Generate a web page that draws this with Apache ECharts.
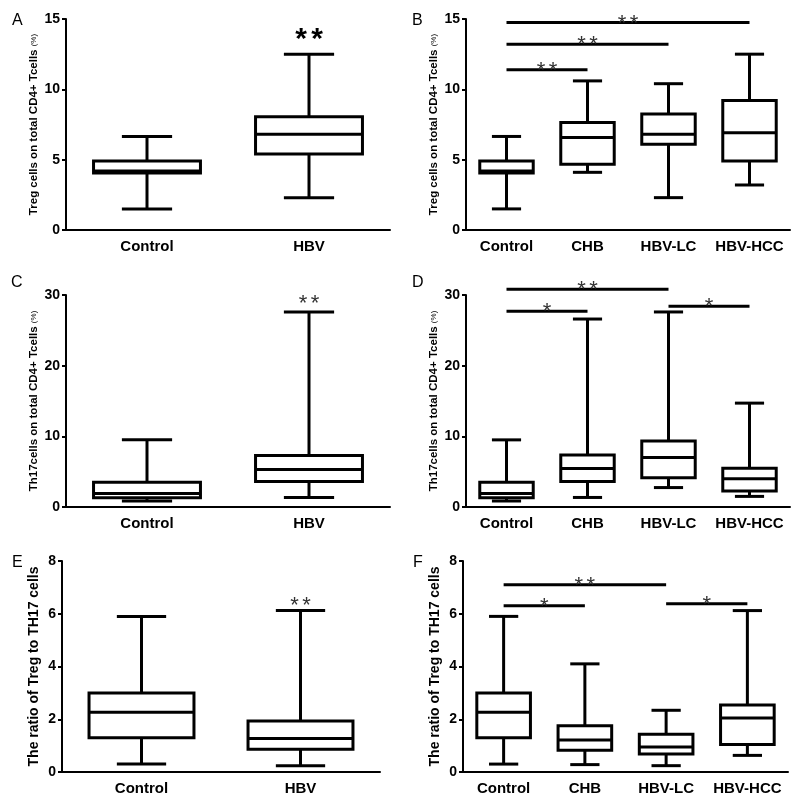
<!DOCTYPE html>
<html>
<head>
<meta charset="utf-8">
<script src="https://cdn.jsdelivr.net/npm/echarts@6/dist/echarts.min.js"></script>
<style>
html,body{margin:0;padding:0;background:#fff;}
#chart{width:800px;height:804px;}
</style>
</head>
<body>
<div id="chart"></div>
<script>
// ---------- data ----------
const catsTwo = ['Control', 'HBV'];
const catsFour = ['Control', 'CHB', 'HBV-LC', 'HBV-HCC'];
// each box: [min, Q1, median, Q3, max]
const tregControl = [1.5, 4.05, 4.2, 4.9, 6.65];
const tregHBV = [2.3, 5.4, 6.8, 8.05, 12.5];
const tregCHB = [4.1, 4.67, 6.57, 7.65, 10.6];
const tregLC = [2.3, 6.1, 6.8, 8.25, 10.4];
const tregHCC = [3.2, 4.9, 6.92, 9.2, 12.5];
const th17Control = [0.85, 1.3, 1.9, 3.5, 9.5];
const th17HBV = [1.35, 3.6, 5.3, 7.3, 27.6];
const th17CHB = [1.35, 3.6, 5.45, 7.35, 26.6];
const th17LC = [2.75, 4.15, 7.0, 9.35, 27.6];
const th17HCC = [1.5, 2.27, 4.0, 5.48, 14.7];
const ratioControl = [0.3, 1.3, 2.27, 3.0, 5.9];
const ratioHBV = [0.24, 0.86, 1.27, 1.93, 6.12];
const ratioCHB = [0.28, 0.82, 1.21, 1.75, 4.1];
const ratioLC = [0.24, 0.68, 0.95, 1.43, 2.34];
const ratioHCC = [0.63, 1.04, 2.05, 2.54, 6.12];
// significance brackets: [fromCategory, toCategory, yValue, starCount]
const bracketsB = [[0, 1, 11.4, 2], [0, 2, 13.2, 2], [0, 3, 14.75, 2]];
const bracketsD = [[0, 1, 27.7, 1], [0, 2, 30.8, 2], [2, 3, 28.4, 1]];
const bracketsF = [[0, 1, 6.3, 1], [0, 2, 7.1, 2], [2, 3, 6.38, 1]];
// single significance marks: [category, yValue, starCount]
const starsA = [[1, 14.0, 2]];
const starsC = [[1, 29.4, 2]];
const starsE = [[1, 6.47, 2]];
// axis ticks
const yTicksTreg = [0, 5, 10, 15];
const yTicksTh17 = [0, 10, 20, 30];
const yTicksRatio = [0, 2, 4, 6, 8];
const yNameTreg = 'Treg cells on total CD4+ Tcells {p|(%)}';
const yNameTh17 = 'Th17cells on total CD4+ Tcells {p|(%)}';
const yNameRatio = 'The ratio of Treg to TH17 cells';
const panelLetters = ['A', 'B', 'C', 'D', 'E', 'F'];

// ---------- layout ----------
const FONT = 'Liberation Sans, Arial, sans-serif';
const panels = [
  {grid: {left: 66, top: 19, width: 324, height: 211}, cats: catsTwo, boxes: [tregControl, tregHBV], ticks: yTicksTreg, name: yNameTreg, nameSize: 11.5, gap: 26, brackets: [], stars: starsA, big: true, letter: [12, 13]},
  {grid: {left: 466, top: 19, width: 324, height: 211}, cats: catsFour, boxes: [tregControl, tregCHB, tregLC, tregHCC], ticks: yTicksTreg, name: yNameTreg, nameSize: 11.5, gap: 26, brackets: bracketsB, stars: [], letter: [412, 13]},
  {grid: {left: 66, top: 295, width: 324, height: 212}, cats: catsTwo, boxes: [th17Control, th17HBV], ticks: yTicksTh17, name: yNameTh17, nameSize: 11.5, gap: 26, brackets: [], stars: starsC, letter: [11, 275]},
  {grid: {left: 466, top: 295, width: 324, height: 212}, cats: catsFour, boxes: [th17Control, th17CHB, th17LC, th17HCC], ticks: yTicksTh17, name: yNameTh17, nameSize: 11.5, gap: 26, brackets: bracketsD, stars: [], letter: [412, 275]},
  {grid: {left: 62, top: 561, width: 318, height: 211}, cats: catsTwo, boxes: [ratioControl, ratioHBV], ticks: yTicksRatio, name: yNameRatio, nameSize: 14, gap: 21, brackets: [], stars: starsE, letter: [12, 555]},
  {grid: {left: 463, top: 561, width: 325, height: 211}, cats: catsFour, boxes: [ratioControl, ratioCHB, ratioLC, ratioHCC], ticks: yTicksRatio, name: yNameRatio, nameSize: 14, gap: 21, brackets: bracketsF, stars: [], letter: [413, 555]}
];

function makeBoxRenderer(boxFrac, capFrac) {
  return function (params, api) {
    const x = api.value(0);
    const pMin = api.coord([x, api.value(1)]);
    const pQ1 = api.coord([x, api.value(2)]);
    const pMed = api.coord([x, api.value(3)]);
    const pQ3 = api.coord([x, api.value(4)]);
    const pMax = api.coord([x, api.value(5)]);
    const band = api.size([1, 0])[0];
    const bw = band * boxFrac, cw = band * capFrac;
    const cx = pMin[0];
    const ls = {stroke: '#000', lineWidth: 3, fill: null};
    return {type: 'group', children: [
      {type: 'line', shape: {x1: cx, y1: pMin[1], x2: cx, y2: pQ1[1]}, style: ls},
      {type: 'line', shape: {x1: cx, y1: pQ3[1], x2: cx, y2: pMax[1]}, style: ls},
      {type: 'line', shape: {x1: cx - cw / 2, y1: pMin[1], x2: cx + cw / 2, y2: pMin[1]}, style: ls},
      {type: 'line', shape: {x1: cx - cw / 2, y1: pMax[1], x2: cx + cw / 2, y2: pMax[1]}, style: ls},
      {type: 'rect', shape: {x: cx - bw / 2, y: pQ3[1], width: bw, height: pQ1[1] - pQ3[1]}, style: {stroke: '#000', lineWidth: 3, fill: '#fff'}},
      {type: 'line', shape: {x1: cx - bw / 2, y1: pMed[1], x2: cx + bw / 2, y2: pMed[1]}, style: ls}
    ]};
  };
}

function starElems(cx, cy, n, size, spacing, color, weight) {
  const out = [];
  for (let i = 0; i < n; i++) {
    const dx = (i - (n - 1) / 2) * spacing;
    out.push({type: 'text', x: cx + dx, y: cy + size * 0.23,
      style: {text: '*', fontSize: size, fontFamily: FONT, fontWeight: weight, fill: color, align: 'center', verticalAlign: 'middle'}});
  }
  return out;
}

function renderBracket(params, api) {
  const s = api.coord([api.value(0), api.value(2)]);
  const e = api.coord([api.value(1), api.value(2)]);
  const n = api.value(3);
  return {type: 'group', children: [
    {type: 'line', shape: {x1: s[0], y1: s[1], x2: e[0], y2: e[1]}, style: {stroke: '#000', lineWidth: 3}}
  ].concat(starElems((s[0] + e[0]) / 2, s[1] - 4, n, 22, 12, '#333', 'normal'))};
}

function makeStarRenderer(big) {
  return function (params, api) {
    const p = api.coord([api.value(0), api.value(1)]);
    const n = api.value(2);
    return {type: 'group', children: big ? starElems(p[0], p[1], n, 30, 16, '#000', 'bold') : starElems(p[0], p[1], n, 22, 12, '#333', 'normal')};
  };
}

const grids = [], xAxes = [], yAxes = [], series = [], graphics = [];
panels.forEach((pn, i) => {
  grids.push(Object.assign({outerBoundsMode: 'none', containLabel: false}, pn.grid));
  xAxes.push({
    type: 'category', gridIndex: i, data: pn.cats,
    axisLine: {lineStyle: {color: '#000', width: 2}},
    axisTick: {alignWithLabel: true, length: 6, lineStyle: {color: '#000', width: 2}},
    axisLabel: {color: '#000', fontSize: 15, fontWeight: 'bold', fontFamily: FONT, margin: 9, interval: 0},
    splitLine: {show: false}
  });
  const tk = pn.ticks;
  yAxes.push({
    type: 'value', gridIndex: i, min: tk[0], max: tk[tk.length - 1], interval: tk[1] - tk[0],
    name: pn.name, nameLocation: 'middle', nameRotate: 90, nameGap: pn.gap,
    nameTextStyle: {color: '#000', fontSize: pn.nameSize, fontWeight: 'bold', fontFamily: FONT,
      rich: {p: {fontSize: 8, fontWeight: 'normal', fontFamily: FONT, color: '#000'}}},
    axisLine: {show: true, lineStyle: {color: '#000', width: 2}},
    axisTick: {show: true, length: 4, lineStyle: {color: '#000', width: 2}},
    axisLabel: {color: '#000', fontSize: 14, fontWeight: 'bold', fontFamily: FONT, margin: 6},
    splitLine: {show: false}
  });
  const two = pn.cats.length === 2;
  series.push({
    type: 'custom', xAxisIndex: i, yAxisIndex: i, clip: false,
    renderItem: makeBoxRenderer(0.66, two ? 0.31 : 0.36),
    encode: {x: 0, y: [1, 2, 3, 4, 5]},
    data: pn.boxes.map((b, k) => [k].concat(b)),
    silent: true
  });
  if (pn.brackets.length) {
    series.push({type: 'custom', xAxisIndex: i, yAxisIndex: i, clip: false, renderItem: renderBracket,
      encode: {x: [0, 1], y: 2}, data: pn.brackets, silent: true, z: 5});
  }
  if (pn.stars.length) {
    series.push({type: 'custom', xAxisIndex: i, yAxisIndex: i, clip: false, renderItem: makeStarRenderer(!!pn.big),
      encode: {x: 0, y: 1}, data: pn.stars, silent: true, z: 5});
  }
  graphics.push({type: 'text', left: pn.letter[0], top: pn.letter[1],
    style: {text: panelLetters[i], fontSize: 16, fontFamily: FONT, fill: '#000'}});
});

const chart = echarts.init(document.getElementById('chart'), null, {renderer: 'canvas'});
chart.setOption({
  animation: false,
  backgroundColor: '#fff',
  grid: grids, xAxis: xAxes, yAxis: yAxes, series: series, graphic: graphics
});
</script>
</body>
</html>
